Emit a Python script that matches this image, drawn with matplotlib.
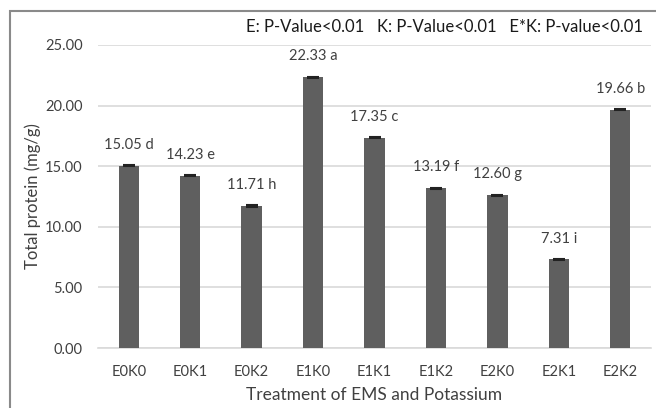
import matplotlib
matplotlib.use("Agg")
import matplotlib.pyplot as plt
from matplotlib.patches import Rectangle

categories = ["E0K0", "E0K1", "E0K2", "E1K0", "E1K1", "E1K2", "E2K0", "E2K1", "E2K2"]
values = [15.05, 14.23, 11.71, 22.33, 17.35, 13.19, 12.60, 7.31, 19.66]
letters = ["d", "e", "h", "a", "c", "f", "g", "i", "b"]
errors = [0.05] * len(values)
yticks = [0, 5, 10, 15, 20, 25]

plt.rcParams["font.family"] = ["Lato", "DejaVu Sans"]
text_color = "#404040"

fig = plt.figure(figsize=(6.56, 4.08), dpi=100)
ax = fig.add_axes([98 / 656, 1 - 348 / 408, 553 / 656, 303 / 408])

x = list(range(len(categories)))
ax.bar(x, values, width=0.33, color="#5f5f5f", zorder=3,
       yerr=errors, error_kw=dict(ecolor="#222222", elinewidth=1, capsize=4, capthick=1.5))

for xi, v, l in zip(x, values, letters):
    ax.annotate(f"{v:.2f} {l}", (xi, v), xytext=(0, 10), textcoords="offset points",
                ha="center", va="bottom", fontsize=10.5, color=text_color)

ax.set_ylim(0, 25)
ax.set_xlim(-0.5, len(categories) - 0.5)
ax.set_yticks(yticks)
ax.set_yticklabels([f"{t:.2f}" for t in yticks])
ax.set_xticks(x)
ax.set_xticklabels(categories)
ax.tick_params(axis="both", length=0, labelsize=10.5, colors=text_color)
ax.tick_params(axis="y", pad=11)
ax.tick_params(axis="x", pad=12)
ax.grid(axis="y", color="#d9d9d9", linewidth=1.2, zorder=0)
for s in ["top", "right", "left"]:
    ax.spines[s].set_visible(False)
ax.spines["bottom"].set_color("#d9d9d9")
ax.spines["bottom"].set_linewidth(1.2)

ax.set_xlabel("Treatment of EMS and Potassium", fontsize=12.5, color=text_color)
ax.set_ylabel("Total protein (mg/g)", fontsize=12, color=text_color)
ax.xaxis.set_label_coords(0.5, (348 - 395) / 303)
ax.yaxis.set_label_coords((33 - 98) / 553, 0.5)
ax.xaxis.label.set_va("center")
ax.yaxis.label.set_va("center")

fig.text(643 / 656, 1 - 27 / 408,
         "E: P-Value<0.01   K: P-Value<0.01   E*K: P-value<0.01",
         ha="right", va="center", fontsize=12, color="#1a1a1a")

fig.patches.append(Rectangle((10 / 656, -0.1), 1.2, (1 - 11 / 408) + 0.1,
                             transform=fig.transFigure, fill=False,
                             edgecolor="#8a8a8a", linewidth=1.5))

fig.savefig("out.png", dpi=100)
